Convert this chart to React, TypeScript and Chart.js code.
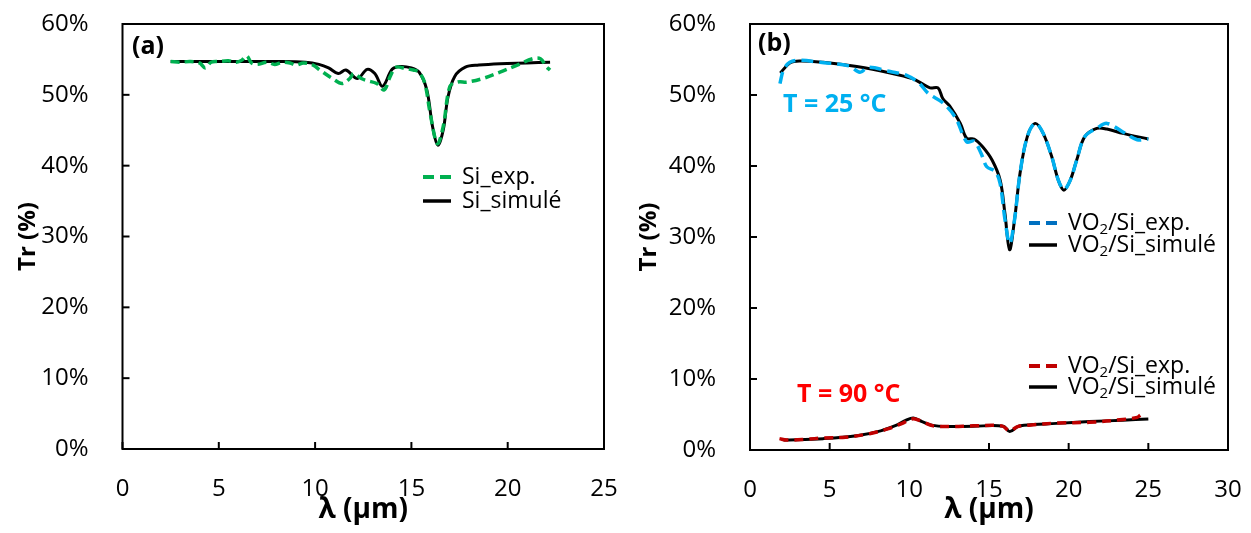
import React, { useEffect, useRef } from 'react';
import { Chart, registerables } from 'chart.js';

Chart.register(...registerables);

const FONT = "'Open Sans', sans-serif";

// ---------- (a) Si ----------
const siSimX = [2.5, 4, 6, 8, 9.5, 10.2, 10.7, 11.2, 11.6, 12.2, 12.7, 13.1, 13.5, 14.0, 14.4, 15.0, 15.4, 15.8, 16.1, 16.37, 16.65, 16.9, 17.25, 17.8, 18.5, 19.6, 21, 22.2];
const siSimY = [54.7, 54.7, 54.7, 54.7, 54.6, 54.3, 53.8, 53.0, 53.5, 52.3, 53.6, 53.0, 51.2, 53.6, 54.0, 53.8, 53.2, 50.7, 45.5, 42.9, 45.0, 49.7, 52.6, 53.9, 54.2, 54.4, 54.5, 54.6];
const siExpX = [2.5, 3.0, 3.5, 4.0, 4.3, 4.6, 5.0, 5.5, 5.9, 6.2, 6.45, 6.7, 7.0, 7.5, 7.9, 8.3, 8.7, 9.0, 9.4, 9.9, 10.25, 10.9, 11.4, 11.8, 12.0, 12.4, 12.7, 13.2, 13.58, 13.9, 14.2, 14.7, 15.1, 15.4, 15.7, 16.0, 16.35, 16.65, 17.0, 17.4, 17.9, 18.7, 19.6, 20.5, 21.3, 21.7, 22.0, 22.2];
const siExpY = [54.7, 54.6, 54.7, 54.5, 53.8, 54.6, 54.7, 54.8, 54.6, 54.9, 55.5, 54.5, 54.3, 54.6, 54.3, 54.6, 54.5, 54.2, 54.5, 54.2, 53.5, 52.3, 51.6, 52.3, 53.0, 52.3, 52.0, 51.6, 50.7, 52.6, 53.9, 53.7, 53.5, 53.2, 51.6, 47.0, 43.1, 45.5, 51.2, 51.8, 51.8, 52.3, 53.2, 54.2, 55.1, 55.1, 54.0, 53.5];

// ---------- (b) VO2/Si ----------
const vo25SimX = [1.9, 2.5, 3.1, 4.6, 6.7, 8.8, 10.2, 10.8, 11.3, 11.8, 12.1, 12.55, 13.2, 13.6, 14.06, 14.6, 15.2, 15.7, 16.0, 16.29, 16.6, 16.95, 17.4, 17.9, 18.4, 18.94, 19.35, 19.7, 20.1, 20.5, 21.0, 21.76, 22.4, 23.4, 25.0];
const vo25SimY = [53.1, 54.5, 54.8, 54.6, 54.0, 53.1, 52.3, 51.6, 51.0, 51.0, 49.5, 48.4, 46.0, 43.9, 43.8, 42.7, 40.8, 38.0, 33.3, 28.2, 32.4, 39.0, 44.1, 46.0, 44.6, 41.3, 38.0, 36.6, 38.0, 40.8, 44.1, 45.3, 45.2, 44.6, 43.8];
const vo25ExpX = [1.88, 2.1, 2.5, 3.1, 4.4, 6.2, 6.9, 7.4, 8.8, 9.8, 10.6, 11.2, 12.1, 12.9, 13.6, 14.06, 14.5, 14.86, 15.4, 15.7, 16.0, 16.3, 16.6, 16.95, 17.4, 17.9, 18.4, 18.94, 19.35, 19.7, 20.1, 20.5, 21.0, 21.76, 22.4, 23.4, 24.3, 25.0];
const vo25ExpY = [51.6, 53.5, 54.6, 54.9, 54.6, 54.1, 53.2, 53.9, 53.3, 52.8, 51.7, 50.2, 48.9, 46.8, 43.4, 43.5, 41.8, 39.9, 39.2, 37.5, 32.5, 29.1, 32.4, 39.0, 44.1, 46.0, 44.6, 41.3, 38.0, 36.7, 38.0, 40.8, 44.1, 45.3, 46.0, 44.8, 43.7, 43.8];
const vo90SimX = [2.1, 4.6, 6.7, 8.2, 9.2, 9.8, 10.25, 10.8, 11.4, 12.35, 14.0, 15.9, 16.3, 16.8, 17.2, 19.25, 21.3, 23.4, 25.0];
const vo90SimY = [1.4, 1.6, 2.0, 2.7, 3.5, 4.2, 4.5, 4.0, 3.5, 3.3, 3.35, 3.35, 2.6, 3.3, 3.5, 3.75, 4.0, 4.2, 4.37];
const vo90ExpX = [1.85, 2.3, 3.5, 4.6, 6.0, 7.5, 8.7, 9.6, 10.25, 10.8, 11.5, 12.6, 14.0, 15.8, 16.3, 16.8, 17.5, 19.3, 21.3, 23.4, 24.3, 24.5];
const vo90ExpY = [1.6, 1.4, 1.5, 1.7, 1.8, 2.3, 3.0, 3.8, 4.4, 4.0, 3.4, 3.3, 3.4, 3.4, 2.7, 3.3, 3.5, 3.8, 3.9, 4.3, 4.6, 4.9];

const xMaxA = 25;
const xMaxB = 30;
const xStep = 5;
const yMax = 60;
const yStep = 10;

const GREEN = '#00B050';
const BLUE = '#00B0F0';
const BLUE_LEG = '#0070C0';
const DARKRED = '#C00000';
const RED = '#FF0000';

const pts = (xs: number[], ys: number[]) => xs.map((x, i) => ({ x, y: ys[i] }));

type LegendItem = { dx: number; dy: number; color: string; dashed: boolean; text: string; sub?: boolean; suffix?: string };
type Label = { dx: number; dy: number; text: string; color: string; size: number };

function drawRichText(ctx: CanvasRenderingContext2D, x: number, y: number, item: LegendItem) {
  ctx.fillStyle = '#000';
  ctx.textBaseline = 'middle';
  ctx.textAlign = 'left';
  ctx.font = `23px ${FONT}`;
  if (item.sub) {
    ctx.fillText('VO', x, y);
    let w = ctx.measureText('VO').width;
    ctx.font = `15px ${FONT}`;
    ctx.fillText('2', x + w, y + 7);
    w += ctx.measureText('2').width;
    ctx.font = `23px ${FONT}`;
    ctx.fillText(item.suffix || '', x + w, y);
  } else {
    ctx.fillText(item.text, x, y);
  }
}

function framePlugin(legend: LegendItem[], labels: Label[]) {
  return {
    id: 'frameAndNotes',
    afterDraw(chart: any) {
      const { ctx, chartArea: a, scales } = chart;
      ctx.save();
      ctx.strokeStyle = '#000';
      ctx.lineWidth = 2;
      ctx.setLineDash([]);
      ctx.strokeRect(a.left, a.top, a.right - a.left, a.bottom - a.top);
      scales.x.ticks.forEach((t: any) => {
        const px = scales.x.getPixelForValue(t.value);
        ctx.beginPath();
        ctx.moveTo(px, a.bottom);
        ctx.lineTo(px, a.bottom - 7);
        ctx.stroke();
      });
      scales.y.ticks.forEach((t: any) => {
        const py = scales.y.getPixelForValue(t.value);
        ctx.beginPath();
        ctx.moveTo(a.left, py);
        ctx.lineTo(a.left + 7, py);
        ctx.stroke();
      });
      legend.forEach((it) => {
        const x0 = a.left + it.dx;
        const y0 = a.top + it.dy;
        ctx.beginPath();
        ctx.strokeStyle = it.color;
        ctx.lineWidth = it.dashed ? 4 : 3.5;
        ctx.setLineDash(it.dashed ? [11, 6] : []);
        ctx.moveTo(x0, y0);
        ctx.lineTo(x0 + 28, y0);
        ctx.stroke();
        ctx.setLineDash([]);
        drawRichText(ctx, x0 + 39, y0, it);
      });
      labels.forEach((l) => {
        ctx.fillStyle = l.color;
        ctx.font = `bold ${l.size}px ${FONT}`;
        ctx.textBaseline = 'middle';
        ctx.textAlign = 'left';
        ctx.fillText(l.text, a.left + l.dx, a.top + l.dy);
      });
      ctx.restore();
    },
  };
}

function makeConfig(
  datasets: any[],
  xMax: number,
  yWidth: number,
  xHeight: number,
  padRight: number,
  yTitlePad: number,
  plugin: any
) {
  return {
    type: 'line',
    data: { datasets },
    options: {
      responsive: false,
      animation: false,
      devicePixelRatio: 1,
      layout: { padding: { left: 0, right: padRight, top: 24, bottom: 0 } },
      elements: { point: { radius: 0 }, line: { tension: 0.35 } },
      plugins: { legend: { display: false }, tooltip: { enabled: false } },
      scales: {
        x: {
          type: 'linear',
          min: 0,
          max: xMax,
          grid: { display: false },
          border: { display: false },
          ticks: {
            stepSize: xStep,
            padding: 18,
            color: '#000',
            maxRotation: 0,
            autoSkip: false,
            font: { family: FONT, size: 24 },
          },
          title: {
            display: true,
            text: 'λ (µm)',
            color: '#000',
            font: { family: FONT, size: 28, weight: 'bold' },
            padding: { top: 0, bottom: 6 },
          },
          afterFit: (s: any) => {
            s.height = xHeight;
            s.paddingLeft = 0;
            s.paddingRight = 0;
          },
        },
        y: {
          type: 'linear',
          min: 0,
          max: yMax,
          grid: { display: false },
          border: { display: false },
          ticks: {
            stepSize: yStep,
            padding: 26,
            color: '#000',
            font: { family: FONT, size: 24 },
            callback: (v: any) => `${v}%`,
          },
          title: {
            display: true,
            text: 'Tr (%)',
            color: '#000',
            font: { family: FONT, size: 24, weight: 'bold' },
            padding: { top: yTitlePad, bottom: 0 },
          },
          afterFit: (s: any) => {
            s.width = yWidth;
            s.paddingTop = 0;
            s.paddingBottom = 0;
          },
        },
      },
    },
    plugins: [plugin],
  };
}

function ChartCanvas({ config, width, height, left }: { config: () => any; width: number; height: number; left: number }) {
  const ref = useRef<HTMLCanvasElement | null>(null);
  useEffect(() => {
    if (!ref.current) return;
    const chart = new Chart(ref.current, config());
    return () => chart.destroy();
  }, []);
  return (
    <canvas
      ref={ref}
      width={width}
      height={height}
      style={{ position: 'absolute', left, top: 0, width, height }}
    />
  );
}

const configA = () =>
  makeConfig(
    [
      { data: pts(siExpX, siExpY), borderColor: GREEN, borderWidth: 3.5, borderDash: [9, 5] },
      { data: pts(siSimX, siSimY), borderColor: '#000', borderWidth: 3 },
    ],
    xMaxA,
    122.5,
    84,
    21,
    14,
    framePlugin(
      [
        { dx: 300.5, dy: 153, color: GREEN, dashed: true, text: 'Si_exp.' },
        { dx: 300.5, dy: 177, color: '#000', dashed: false, text: 'Si_simulé' },
      ],
      [{ dx: 9.5, dy: 23, text: '(a)', color: '#000', size: 25 }]
    )
  );

const configB = () =>
  makeConfig(
    [
      { data: pts(vo25ExpX, vo25ExpY), borderColor: BLUE, borderWidth: 3.5, borderDash: [12, 6] },
      { data: pts(vo90ExpX, vo90ExpY), borderColor: DARKRED, borderWidth: 3.5, borderDash: [9, 6] },
      { data: pts(vo25SimX, vo25SimY), borderColor: '#000', borderWidth: 3 },
      { data: pts(vo90SimX, vo90SimY), borderColor: '#000', borderWidth: 3 },
    ],
    xMaxB,
    125,
    83,
    23,
    10,
    framePlugin(
      [
        { dx: 279, dy: 199, color: BLUE_LEG, dashed: true, text: 'VO2/Si_exp.', sub: true, suffix: '/Si_exp.' },
        { dx: 279, dy: 221, color: '#000', dashed: false, text: 'VO2/Si_simulé', sub: true, suffix: '/Si_simulé' },
        { dx: 279, dy: 342, color: DARKRED, dashed: true, text: 'VO2/Si_exp.', sub: true, suffix: '/Si_exp.' },
        { dx: 279, dy: 363, color: '#000', dashed: false, text: 'VO2/Si_simulé', sub: true, suffix: '/Si_simulé' },
      ],
      [
        { dx: 8, dy: 20, text: '(b)', color: '#000', size: 25 },
        { dx: 33, dy: 81, text: 'T = 25 °C', color: BLUE, size: 25 },
        { dx: 47, dy: 371, text: 'T = 90 °C', color: RED, size: 25 },
      ]
    )
  );

export default function App() {
  return (
    <div style={{ position: 'absolute', left: 0, top: 0, width: 1251, height: 533, background: '#fff', overflow: 'hidden' }}>
      <ChartCanvas config={configA} width={625} height={533} left={0} />
      <ChartCanvas config={configB} width={626} height={533} left={625} />
    </div>
  );
}
